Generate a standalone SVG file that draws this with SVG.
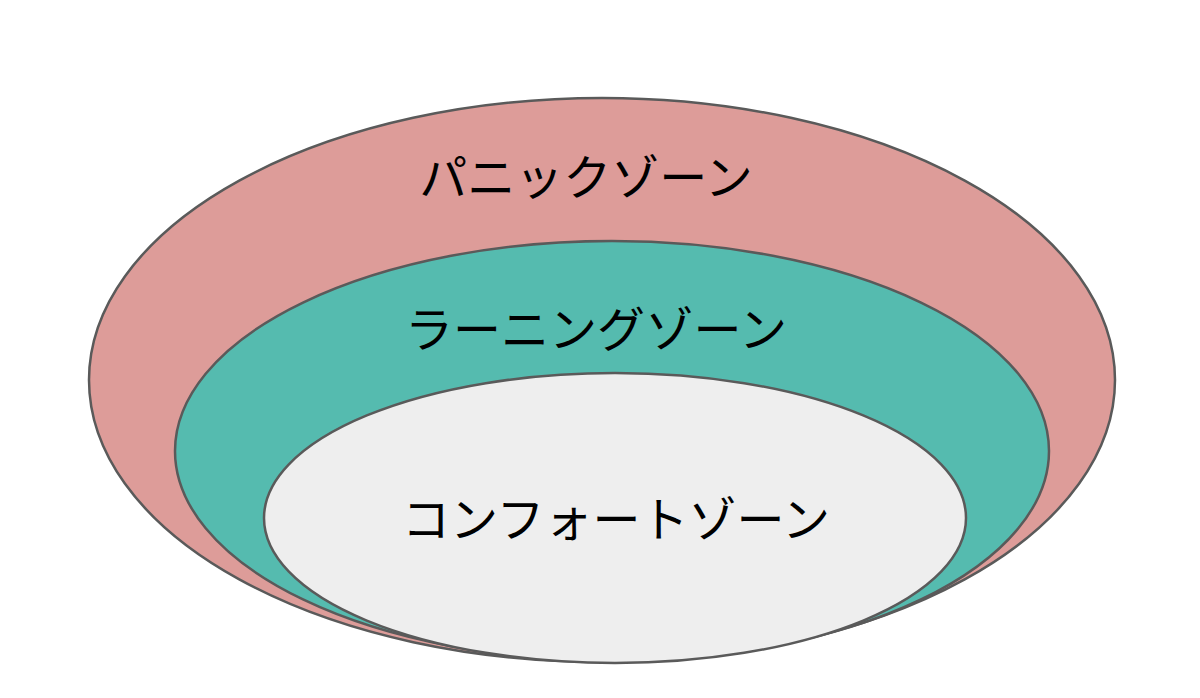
<svg xmlns="http://www.w3.org/2000/svg" width="1200" height="698" viewBox="0 0 1200 698">
<style>
.z{stroke:#5a5a5a;stroke-width:2.5}
.t{font-family:"Noto Sans CJK JP","Noto Sans",sans-serif;font-size:48px;fill:#000;text-anchor:middle;dominant-baseline:central}
</style>
<rect width="1200" height="698" fill="#fff"/>
<g id="panic"><ellipse class="z" cx="602" cy="380" rx="513" ry="282" fill="#DD9C99"/></g>
<g id="learning"><ellipse class="z" cx="612" cy="451" rx="437" ry="210" fill="#55BBAF"/></g>
<g id="comfort"><ellipse class="z" cx="615" cy="518" rx="351" ry="145" fill="#EEEEEE"/></g>
<g id="labels">
<text class="t" x="586" y="174">パニックゾーン</text>
<text class="t" x="596" y="326">ラーニングゾーン</text>
<text class="t" x="616" y="516">コンフォートゾーン</text>
</g>
</svg>
